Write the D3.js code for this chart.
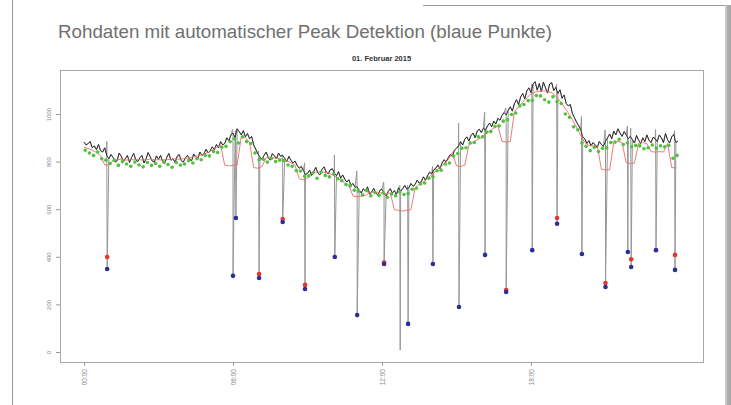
<!doctype html>
<html>
<head>
<meta charset="utf-8">
<title>Peak Detektion</title>
<style>
  body { margin: 0; background: #fff; }
  svg { display: block; }
</style>
</head>
<body>
<script src="https://d3js.org/d3.v7.min.js"></script>
<svg id="chart" width="731" height="405"></svg>
<script>
// raw data, one value every 5 minutes (00:00 .. 23:55)
const rawValues = [
  882, 870, 876, 884, 858, 866, 850, 872, 846, 840, 858, 826,
  812, 830, 818, 798, 804, 836, 822, 800, 812, 826, 796, 818,
  834, 808, 800, 816, 826, 794, 812, 838, 820, 802, 798, 824,
  810, 826, 800, 792, 818, 834, 806, 812, 796, 822, 830, 804,
  798, 816, 826, 810, 804, 832, 820, 812, 840, 826, 834, 852,
  836, 846, 862, 850, 872, 858, 884, 870, 876, 900, 888, 912,
  920, 900, 938, 926, 912, 930, 904, 918, 896, 906, 870, 852,
  832, 820, 808, 826, 840, 818, 806, 834, 824, 812, 836, 822,
  826, 814, 800, 822, 806, 794, 802, 784, 772, 780, 762, 746,
  750, 764, 742, 758, 776, 752, 744, 768, 778, 756, 748, 766,
  770, 752, 740, 758, 730, 744, 726, 714, 724, 700, 708, 692,
  694, 680, 668, 686, 676, 694, 664, 672, 688, 668, 660, 680,
  684, 666, 656, 674, 686, 668, 678, 662, 690, 676, 686, 700,
  684, 690, 708, 696, 704, 722, 710, 716, 736, 722, 740, 756,
  748, 766, 772, 786, 770, 794, 808, 798, 816, 830, 822, 848,
  856, 866, 884, 870, 894, 904, 886, 910, 920, 900, 928, 936,
  922, 940, 932, 950, 962, 946, 970, 958, 982, 974, 994, 1006,
  996, 1016, 1030, 1012, 1044, 1060, 1040, 1072, 1086, 1064, 1098, 1110,
  1090, 1126, 1136, 1100, 1128, 1094, 1134, 1110, 1088, 1126, 1132, 1098,
  1112, 1086, 1102, 1066, 1080, 1044, 1034, 1040, 1002, 984, 966, 952,
  934, 904, 896, 876, 888, 866, 880, 870, 858, 884, 872, 864,
  886, 900, 916, 896, 928, 912, 938, 920, 906, 926, 912, 896,
  906, 892, 878, 910, 890, 876, 900, 884, 912, 890, 880, 902,
  896, 884, 912, 900, 880, 918, 892, 878, 904, 914, 880, 886
];

// drop-outs in the raw data (minute of day, value before the drop, lowest value)
const spikeTime = [56, 360, 367, 423, 480, 534, 606, 660, 725, 764, 783, 843,
                   906, 969, 1020, 1083, 1143, 1203, 1260, 1314, 1322, 1382, 1428];
const spikeTop  = [885, 935, 930, 845, 830, 795, 828, 760, 714, 700, 700, 780,
                   962, 1008, 1025, 1125, 1125, 990, 933, 950, 940, 935, 930];
const spikeLow  = [349, 320, 563, 311, 546, 265, 399, 155, 370, 8, 118, 370,
                   189, 408, 252, 428, 539, 412, 273, 420, 357, 428, 345];

// moving baseline (red line), one value every 10 minutes
const baseValues = [
  860, 855, 848, 838, 825, 786,
  786, 805, 808, 810, 806, 808,
  808, 810, 806, 808, 810, 807,
  808, 806, 810, 808, 812, 810,
  812, 815, 818, 822, 826, 832,
  838, 848, 860, 870, 785, 782,
  784, 786, 905, 900, 880, 775,
  772, 780, 815, 818, 815, 812,
  810, 805, 795, 785, 728, 724,
  730, 752, 755, 757, 755, 752,
  745, 735, 722, 710, 700, 655,
  652, 655, 658, 670, 672, 670,
  668, 666, 668, 598, 595, 592,
  596, 598, 690, 705, 715, 730,
  745, 760, 775, 790, 808, 838,
  782, 780, 785, 870, 882, 892,
  900, 915, 928, 940, 952, 885,
  882, 885, 1010, 1030, 1050, 1068,
  1085, 1092, 1095, 1098, 1095, 1090,
  1075, 1055, 1030, 1005, 975, 945,
  910, 880, 868, 865, 868, 768,
  765, 766, 880, 885, 880, 795,
  792, 794, 878, 880, 876, 842,
  840, 842, 840, 876, 775, 773
];

// local minima (green points), one value every 10 minutes
const minValues = [
  848, 836, 826, 840, 812, 806,
  792, 806, 784, 800, 790, 780,
  798, 786, 778, 796, 784, 792,
  780, 798, 788, 776, 796, 786,
  790, 804, 794, 812, 808, 826,
  824, 842, 838, 860, 864, 884,
  896, 878, 904, 884, 876, 836,
  808, 810, 798, 814, 800, 806,
  804, 786, 780, 762, 760, 738,
  740, 752, 730, 756, 742, 736,
  748, 728, 720, 704, 698, 680,
  676, 660, 678, 656, 670, 658,
  668, 650, 664, 656, 672, 662,
  666, 684, 688, 706, 710, 730,
  736, 762, 764, 790, 794, 824,
  834, 856, 858, 878, 880, 904,
  904, 924, 926, 948, 950, 970,
  976, 998, 1004, 1034, 1040, 1056,
  1058, 1078, 1076, 1060, 1050, 1072,
  1052, 1044, 1000, 986, 946, 934,
  878, 864, 846, 860, 842, 856,
  858, 880, 882, 894, 872, 878,
  862, 868, 866, 854, 858, 870,
  856, 866, 862, 868, 814, 826
];

// detected peaks
const blueTime  = [56, 360, 367, 423, 480, 534, 606, 660, 725, 783, 843,
                   906, 969, 1020, 1083, 1143, 1203, 1260, 1314, 1322, 1382, 1428];
const blueValue = [349, 320, 563, 311, 546, 265, 399, 155, 370, 118, 370,
                   189, 408, 252, 428, 539, 412, 273, 420, 357, 428, 345];
const redTime   = [56, 423, 480, 534, 725, 1020, 1143, 1260, 1322, 1428];
const redValue  = [399, 328, 559, 282, 376, 260, 563, 290, 390, 408];

const xTicks = [0, 360, 720, 1080];
const xTickLabels = ["00:00", "06:00", "12:00", "18:00"];
const yTicks = [0, 200, 400, 600, 800, 1000];

const svg = d3.select("#chart");
const box = {left: 60, right: 703, top: 70, bottom: 362};

const x = d3.scaleLinear().domain([0, 1440]).range([84, 680]);
const y = d3.scaleLinear().domain([0, 1000]).range([352, 114]);

// page frame
svg.append("line").attr("x1", 12.5).attr("x2", 12.5).attr("y1", 0).attr("y2", 405)
  .attr("stroke", "#9a9a9a");
svg.append("line").attr("x1", 423).attr("x2", 725).attr("y1", 5.5).attr("y2", 5.5)
  .attr("stroke", "#9a9a9a");
let grad = svg.append("defs").append("linearGradient").attr("id", "shade");
grad.append("stop").attr("offset", "0%").attr("stop-color", "#d8d8d8");
grad.append("stop").attr("offset", "40%").attr("stop-color", "#b0b0b0");
grad.append("stop").attr("offset", "100%").attr("stop-color", "#a4a4a4");
svg.append("rect").attr("x", 725).attr("y", 5).attr("width", 6).attr("height", 400)
  .attr("fill", "url(#shade)");

// titles
svg.append("text").attr("x", 58).attr("y", 38)
  .attr("font-family", "Liberation Sans, Arial, sans-serif")
  .attr("font-size", 18.5).attr("fill", "#707070")
  .attr("textLength", 494).attr("lengthAdjust", "spacingAndGlyphs")
  .text("Rohdaten mit automatischer Peak Detektion (blaue Punkte)");
svg.append("text").attr("x", (box.left + box.right) / 2).attr("y", 61)
  .attr("text-anchor", "middle")
  .attr("font-family", "Liberation Sans, Arial, sans-serif")
  .attr("font-size", 7.5).attr("font-weight", "bold").attr("fill", "#333")
  .text("01. Februar 2015");

// plot box
svg.append("rect").attr("x", box.left + 0.5).attr("y", box.top + 0.5)
  .attr("width", box.right - box.left).attr("height", box.bottom - box.top)
  .attr("fill", "none").attr("stroke", "#a8a8a8");

// axes
svg.append("g").attr("transform", `translate(${box.left},0)`)
  .call(d3.axisLeft(y).tickValues(yTicks).tickSize(4).tickFormat(d3.format("d")))
  .attr("font-family", "Liberation Sans, Arial, sans-serif").attr("font-size", 6)
  .call(g => g.select(".domain").remove())
  .call(g => g.selectAll("line").attr("stroke", "#999"))
  .call(g => g.selectAll("text").attr("x", null).attr("dy", null)
    .attr("transform", "translate(-9,0) rotate(-90)")
    .attr("text-anchor", "middle").attr("fill", "#888"));

svg.append("g").attr("transform", `translate(0,${box.bottom})`)
  .call(d3.axisBottom(x).tickValues(xTicks).tickSize(4).tickFormat((d, i) => xTickLabels[i]))
  .attr("font-family", "Liberation Sans, Arial, sans-serif").attr("font-size", 6.5)
  .call(g => g.select(".domain").remove())
  .call(g => g.selectAll("line").attr("stroke", "#999"))
  .call(g => g.selectAll("text").attr("y", null).attr("dy", "0.35em")
    .attr("transform", "translate(0,7) rotate(-90)")
    .attr("text-anchor", "end").attr("fill", "#888"));

// series
const series = rawValues.map((v, i) => ({t: i * 5, v: v}));
let withSpikes = series.slice();
spikeTime.forEach((m, i) => {
  withSpikes.push({t: m - 1, v: spikeTop[i]});
  withSpikes.push({t: m, v: spikeLow[i]});
});
withSpikes.sort((a, b) => a.t - b.t);

const line = d3.line().x(d => x(d.t)).y(d => y(d.v));

svg.append("path").datum(withSpikes).attr("d", line)
  .attr("fill", "none").attr("stroke", "#969696").attr("stroke-width", 1);
svg.append("path").datum(series).attr("d", line)
  .attr("fill", "none").attr("stroke", "#222").attr("stroke-width", 0.9);

const baseline = baseValues.map((v, i) => ({t: i * 10, v: v}));
svg.append("path").datum(baseline).attr("d", line)
  .attr("fill", "none").attr("stroke", "#f06a6a").attr("stroke-width", 0.9);

svg.append("g").selectAll("circle")
  .data(minValues.map((v, i) => ({t: i * 10 + 3, v: v})))
  .enter().append("circle")
  .attr("cx", d => x(d.t)).attr("cy", d => y(d.v)).attr("r", 1.8)
  .attr("fill", "#55bf40");

svg.append("g").selectAll("circle")
  .data(redTime.map((t, i) => ({t: t, v: redValue[i]})))
  .enter().append("circle")
  .attr("cx", d => x(d.t)).attr("cy", d => y(d.v)).attr("r", 2.3)
  .attr("fill", "#e8322d");

svg.append("g").selectAll("circle")
  .data(blueTime.map((t, i) => ({t: t, v: blueValue[i]})))
  .enter().append("circle")
  .attr("cx", d => x(d.t)).attr("cy", d => y(d.v)).attr("r", 2.3)
  .attr("fill", "#2d2d96");
</script>
</body>
</html>
